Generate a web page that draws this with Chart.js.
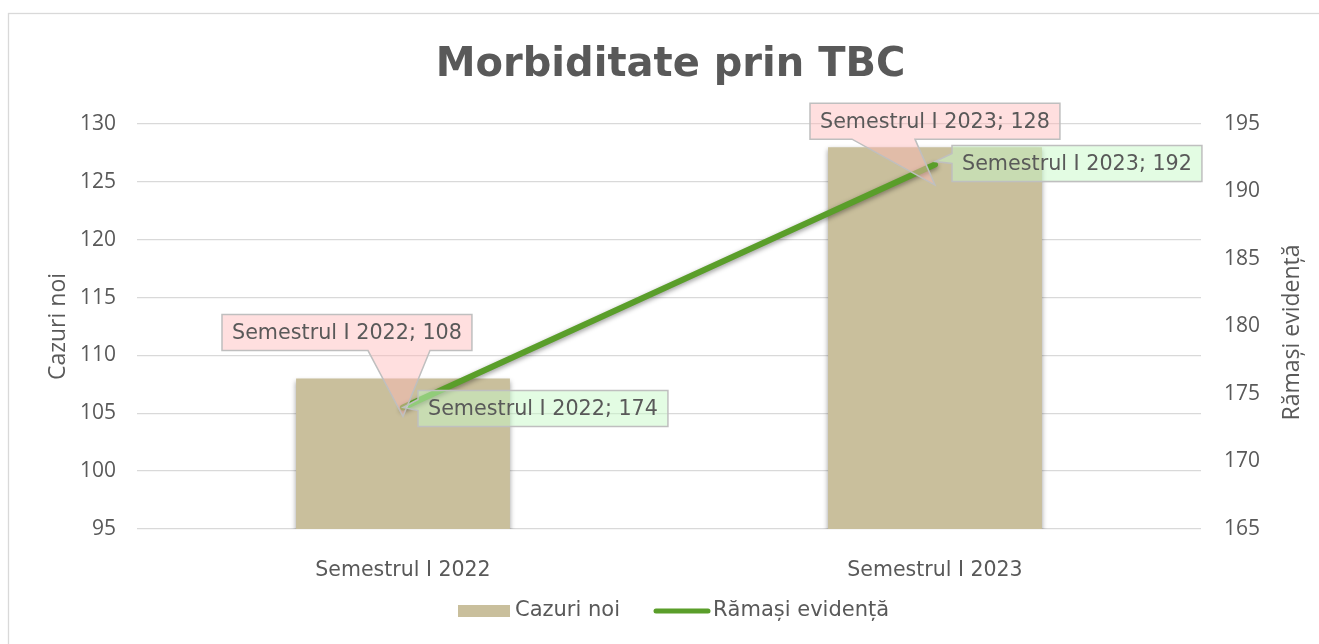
<!DOCTYPE html>
<html>
<head>
<meta charset="utf-8">
<script src="https://cdn.jsdelivr.net/npm/chart.js@4"></script>
<style>
  html, body { margin: 0; padding: 0; background: #fff; }
  #box { width: 1319px; height: 644px; }
</style>
</head>
<body>
<div id="box"><canvas id="chart"></canvas></div>
<script>
const categories = ['Semestrul I 2022', 'Semestrul I 2023'];
const cazuriNoi = [108, 128];
const ramasiEvidenta = [174, 192];
const leftRange = [95, 130];
const rightRange = [165, 195];
const tickStep = 5;

const textColor = '#595959';
const barColor = '#c9bf9c';
const lineColor = '#5a9e2a';

// shadow under bars and line
const shadowPlugin = {
    id: 'shadows',
    beforeDatasetDraw(chart) {
        const ctx = chart.ctx;
        ctx.save();
        ctx.shadowColor = 'rgba(0,0,0,0.4)';
        ctx.shadowBlur = 5;
        ctx.shadowOffsetX = 0;
        ctx.shadowOffsetY = 2;
    },
    afterDatasetDraw(chart) {
        chart.ctx.restore();
    }
};

// frame, axis titles, legend
const decorPlugin = {
    id: 'decor',
    beforeDraw(chart) {
        const ctx = chart.ctx;
        ctx.save();
        ctx.strokeStyle = '#d9d9d9';
        ctx.lineWidth = 1.3;
        ctx.strokeRect(8.5, 13.5, 1330, 700);
        ctx.restore();
    },
    afterDraw(chart) {
        const ctx = chart.ctx;
        const area = chart.chartArea;
        const midY = (area.top + area.bottom) / 2;
        ctx.save();
        ctx.fillStyle = textColor;
        ctx.font = '23px "Open Sans"';
        ctx.textAlign = 'center';
        ctx.textBaseline = 'middle';
        ctx.translate(58, midY);
        ctx.rotate(-Math.PI / 2);
        ctx.fillText('Cazuri noi', 0, 0);
        ctx.restore();

        ctx.save();
        ctx.fillStyle = textColor;
        ctx.font = '23px "Open Sans"';
        ctx.textAlign = 'center';
        ctx.textBaseline = 'middle';
        ctx.translate(1292, midY + 6);
        ctx.rotate(-Math.PI / 2);
        ctx.fillText(chart.data.datasets[1].label, 0, 0);
        ctx.restore();

        // legend
        const ly = 611;
        ctx.save();
        ctx.font = '21px "DejaVu Sans"';
        ctx.textBaseline = 'middle';
        ctx.fillStyle = barColor;
        ctx.fillRect(458, ly - 6, 52, 12);
        ctx.fillStyle = textColor;
        ctx.fillText(chart.data.datasets[0].label, 515, ly);
        ctx.strokeStyle = lineColor;
        ctx.lineWidth = 5;
        ctx.lineCap = 'round';
        ctx.beginPath();
        ctx.moveTo(656, ly);
        ctx.lineTo(708, ly);
        ctx.stroke();
        ctx.fillText(chart.data.datasets[1].label, 713, ly);
        ctx.restore();
    }
};

// data label callouts with pointers
const calloutPlugin = {
    id: 'callouts',
    afterDatasetsDraw(chart, args, opts) {
        const ctx = chart.ctx;
        opts.items.forEach(item => {
            const el = chart.getDatasetMeta(item.dataset).data[item.index];
            const value = chart.data.datasets[item.dataset].data[item.index];
            const text = chart.data.labels[item.index] + '; ' + value;
            ctx.save();
            ctx.font = '20.7px "DejaVu Sans"';
            const w = ctx.measureText(text).width + 20;
            const h = 36;
            const tx = el.x;
            const ty = el.y + item.tipDy;
            const bx = tx + item.dx;
            const by = ty + item.dy;
            ctx.beginPath();
            ctx.moveTo(bx, by);
            ctx.lineTo(bx + w, by);
            ctx.lineTo(bx + w, by + h);
            if (item.side === 'bottom') {
                ctx.lineTo(tx + item.b2, by + h);
                ctx.lineTo(tx, ty);
                ctx.lineTo(tx + item.b1, by + h);
                ctx.lineTo(bx, by + h);
            } else {
                ctx.lineTo(bx, by + h);
                ctx.lineTo(bx, ty + item.b2);
                ctx.lineTo(tx, ty);
                ctx.lineTo(bx, ty + item.b1);
            }
            ctx.closePath();
            ctx.fillStyle = item.fill;
            ctx.fill();
            ctx.strokeStyle = '#bfbfbf';
            ctx.lineWidth = 1.5;
            ctx.stroke();
            ctx.fillStyle = textColor;
            ctx.textBaseline = 'middle';
            ctx.fillText(text, bx + 10, by + h / 2 + 1);
            ctx.restore();
        });
    }
};

const ctx = document.querySelector('#chart').getContext('2d');
const chart = new Chart(ctx, {
    data: {
        labels: categories,
        datasets: [{
            type: 'bar',
            label: 'Cazuri noi',
            data: cazuriNoi,
            backgroundColor: barColor,
            yAxisID: 'y',
            categoryPercentage: 1,
            barPercentage: 0.402,
            order: 2
        }, {
            type: 'line',
            label: 'Rămași evidență',
            data: ramasiEvidenta,
            borderColor: lineColor,
            backgroundColor: lineColor,
            borderWidth: 6,
            borderCapStyle: 'round',
            pointRadius: 0,
            yAxisID: 'y1',
            order: 1
        }]
    },
    options: {
        responsive: true,
        maintainAspectRatio: false,
        animation: false,
        layout: { padding: { left: 22, right: 0, top: 0, bottom: 0 } },
        plugins: {
            legend: { display: false },
            tooltip: { enabled: false },
            title: {
                display: true,
                text: 'Morbiditate prin TBC',
                color: textColor,
                font: { family: 'DejaVu Sans', size: 40, weight: 'bold' },
                padding: { top: 42, bottom: 34 }
            },
            callouts: {
                items: [
                    { dataset: 0, index: 0, tipDy: 38, dx: -181, dy: -102, side: 'bottom', b1: -35, b2: 27, fill: 'rgba(255,185,185,0.45)' },
                    { dataset: 0, index: 1, tipDy: 38, dx: -125, dy: -82, side: 'bottom', b1: -83, b2: -20, fill: 'rgba(255,185,185,0.45)' },
                    { dataset: 1, index: 0, tipDy: 0, dx: 15, dy: -17, side: 'left', b1: -8, b2: 3, fill: 'rgba(200,250,200,0.5)' },
                    { dataset: 1, index: 1, tipDy: -3, dx: 17, dy: -16, side: 'left', b1: -8, b2: 2, fill: 'rgba(200,250,200,0.5)' }
                ]
            }
        },
        scales: {
            x: {
                grid: { display: false },
                border: { display: false },
                ticks: { color: textColor, font: { family: 'DejaVu Sans', size: 20.5 }, padding: 21 },
                afterFit: scale => { scale.height = 115; }
            },
            y: {
                position: 'left',
                min: leftRange[0],
                max: leftRange[1],
                grid: { color: '#d9d9d9', lineWidth: 1.3, drawTicks: false },
                border: { display: false },
                ticks: { stepSize: tickStep, color: textColor, font: { family: 'Open Sans', size: 21 }, padding: 21 },
                afterFit: scale => { scale.width = 115; }
            },
            y1: {
                position: 'right',
                min: rightRange[0],
                max: rightRange[1],
                grid: { display: false, drawTicks: false },
                border: { display: false },
                ticks: { stepSize: tickStep, color: textColor, font: { family: 'Open Sans', size: 21 }, padding: 23 },
                afterFit: scale => { scale.width = 118; }
            }
        }
    },
    plugins: [shadowPlugin, calloutPlugin, decorPlugin]
});
</script>
</body>
</html>
